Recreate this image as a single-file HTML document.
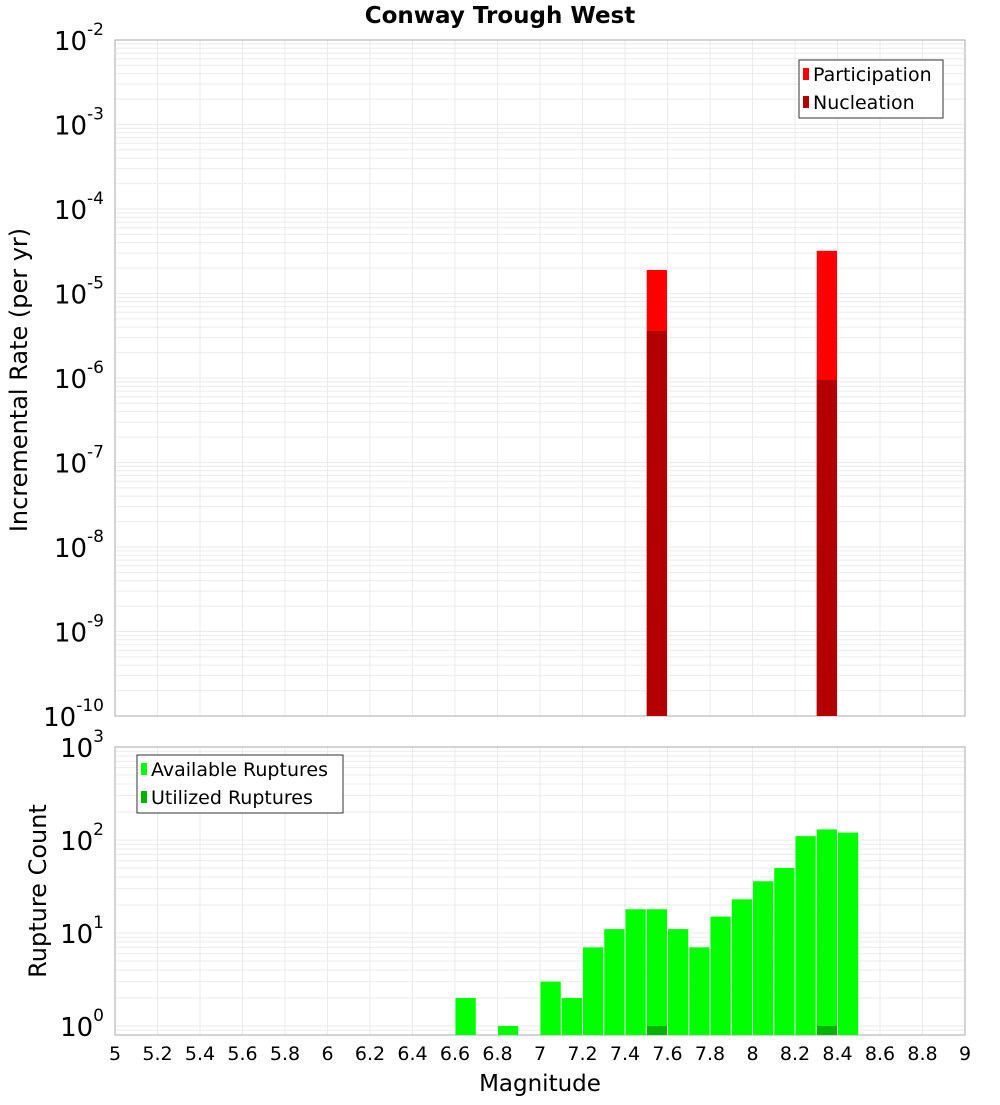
<!DOCTYPE html>
<html><head><meta charset="utf-8"><style>
body{margin:0;background:#fff;font-family:"Liberation Sans","DejaVu Sans",sans-serif}
svg text{font-family:"DejaVu Sans","Liberation Sans",sans-serif}
</style></head><body>
<svg id="c" width="1000" height="1100" xmlns="http://www.w3.org/2000/svg"></svg>
<script>
const partMags=[7.55,8.35];
const partVals=[1.9e-5,3.2e-5];
const nuclVals=[3.6e-6,9.5e-7];
const countMags=[6.65,6.85,7.05,7.15,7.25,7.35,7.45,7.55,7.65,7.75,7.85,7.95,8.05,8.15,8.25,8.35,8.45];
const availVals=[2,1,3,2,7,11,18,18,11,7,15,23,36,50,110,130,120];
const utilMags=[7.55,8.35];
const utilVals=[1,1];
const xTicks=[5,5.2,5.4,5.6,5.8,6,6.2,6.4,6.6,6.8,7,7.2,7.4,7.6,7.8,8,8.2,8.4,8.6,8.8,9];

const svg=document.getElementById('c');const NS='http://www.w3.org/2000/svg';
function mk(t,a,p,txt){const e=document.createElementNS(NS,t);for(const k in a)e.setAttribute(k,a[k]);if(txt!==undefined)e.textContent=txt;(p||svg).appendChild(e);return e;}
const X0=115,X1=965;
const x=m=>X0+(m-5)/4*(X1-X0);
const T={top:40,bot:716,lmin:-10,lmax:-2};
const B={top:747,bot:1035,lmin:Math.log10(0.8),lmax:3};
const yf=P=>v=>P.bot-(Math.log10(v)-P.lmin)/(P.lmax-P.lmin)*(P.bot-P.top);
const yT=yf(T),yB=yf(B);
function grid(P,y,d0,d1,name){
  const g=mk('g',{});
  for(const t of xTicks){mk('line',{x1:x(t),x2:x(t),y1:P.top,y2:P.bot,stroke:'#ebebeb'},g);}
  for(let d=d0;d<=d1;d++)for(let k=1;k<10;k++){const v=k*Math.pow(10,d);const yy=y(v);if(yy<P.top-0.5||yy>P.bot+0.5)continue;mk('line',{x1:X0,x2:X1,y1:yy,y2:yy,stroke:'#ebebeb'},g);}
  mk('rect',{x:X0,y:P.top,width:X1-X0,height:P.bot-P.top,fill:'none',stroke:'#aaa'},g);
}
grid(T,yT,-10,-3,'top-plot-grid');grid(B,yB,-1,2,'bottom-plot-grid');
mk('text',{x:500,y:23,'text-anchor':'middle','font-size':23,'font-weight':'bold'},null,'Conway Trough West');
function ylab(P,y,d0,d1,name){for(let d=d0;d<=d1;d++){const yy=y(Math.pow(10,d));const t=mk('text',{x:104,y:yy+10,'text-anchor':'end','font-size':26});
 t.appendChild(document.createTextNode('10'));const s=document.createElementNS(NS,'tspan');s.setAttribute('dy',-15);s.setAttribute('font-size',17);s.textContent=String(d);t.appendChild(s);}}
ylab(T,yT,-10,-2,'top-y-tick');ylab(B,yB,0,3,'bottom-y-tick');
for(const t of xTicks){const e=mk('text',{x:x(t),y:1060,'text-anchor':'middle','font-size':19},null,String(t));}
mk('text',{x:540,y:1091,'text-anchor':'middle','font-size':23},null,'Magnitude');
mk('text',{transform:'translate(27,380) rotate(-90)','text-anchor':'middle','font-size':24},null,'Incremental Rate (per yr)');
mk('text',{transform:'translate(46,891) rotate(-90)','text-anchor':'middle','font-size':24},null,'Rupture Count');
const w=(X1-X0)/40;
partMags.forEach((m,i)=>{const r=mk('rect',{x:x(m)-w/2+0.5,y:yT(partVals[i]),width:w-1,height:T.bot-yT(partVals[i]),fill:'#ff0000'});
 const n=mk('rect',{x:x(m)-w/2+0.5,y:yT(nuclVals[i]),width:w-1,height:T.bot-yT(nuclVals[i]),fill:'#b30000'});});
countMags.forEach((m,i)=>{const r=mk('rect',{x:x(m)-w/2+0.5,y:yB(availVals[i]),width:w-1,height:B.bot-yB(availVals[i]),fill:'#00ff00'});});
utilMags.forEach((m,i)=>{const r=mk('rect',{x:x(m)-w/2+0.5,y:yB(utilVals[i]),width:w-1,height:B.bot-yB(utilVals[i]),fill:'#00b300'});});
function legend(x0,y0,wd,items,name){const g=mk('g',{});
 mk('rect',{x:x0,y:y0,width:wd,height:58,fill:'#fff',stroke:'#333'},g);
 items.forEach((it,i)=>{mk('rect',{x:x0+4,y:y0+8+i*28,width:6,height:12,fill:it[1]},g);mk('text',{x:x0+14,y:y0+21+i*28,'font-size':19},g,it[0]);});}
legend(799,60,144,[['Participation','#ff0000'],['Nucleation','#b30000']],'top-legend');
legend(137,755,206,[['Available Ruptures','#00ff00'],['Utilized Ruptures','#00b300']],'bottom-legend');
</script>
</body></html>
